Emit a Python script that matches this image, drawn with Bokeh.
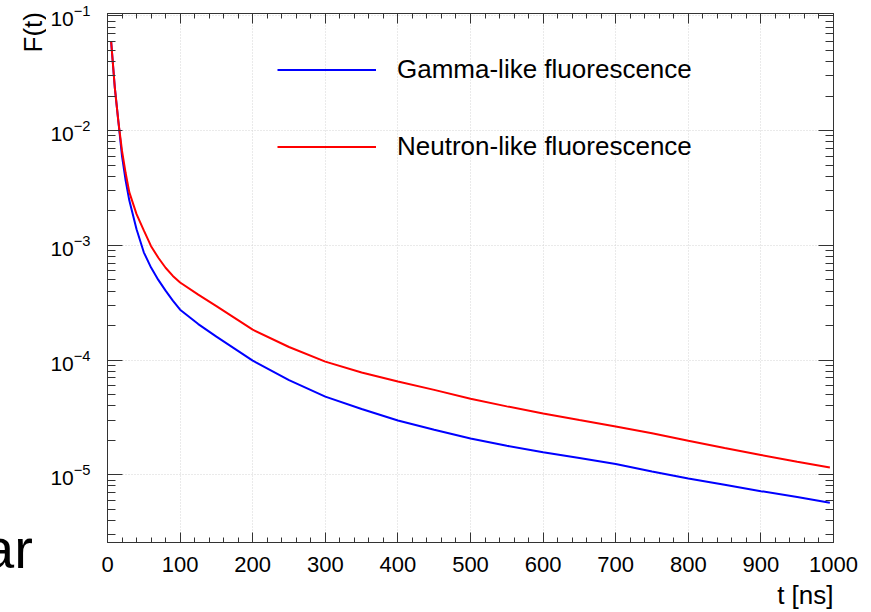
from bokeh.plotting import figure
from bokeh.layouts import row
from bokeh.models import (Range1d, LinearAxis, LogAxis, FixedTicker, Div,
                          Title, LogTickFormatter, CustomJSTickFormatter)
from bokeh.embed import file_html
from bokeh.resources import INLINE

# Scintillation decay curves: normalised fluorescence F(t) vs time
t_ns = [5, 10, 15, 20, 25, 30, 40, 50, 60, 70, 80, 90, 100, 125, 150, 175,
        200, 250, 300, 350, 400, 450, 500, 550, 600, 650, 700, 750, 800,
        850, 900, 950, 995]
gamma_f = [6.0e-2, 2.4e-2, 1.2e-2, 6.0e-3, 3.67e-3, 2.47e-3, 1.38e-3, 8.7e-4,
           6.4e-4, 5.0e-4, 4.03e-4, 3.3e-4, 2.75e-4, 2.06e-4, 1.6e-4,
           1.26e-4, 9.9e-5, 6.7e-5, 4.8e-5, 3.75e-5, 2.97e-5, 2.47e-5,
           2.07e-5, 1.79e-5, 1.57e-5, 1.40e-5, 1.24e-5, 1.07e-5, 9.3e-6,
           8.2e-6, 7.2e-6, 6.4e-6, 5.7e-6]
neutron_f = [6.0e-2, 2.4e-2, 1.2e-2, 6.65e-3, 4.27e-3, 2.91e-3, 1.87e-3,
             1.35e-3, 9.84e-4, 7.8e-4, 6.38e-4, 5.42e-4, 4.75e-4, 3.72e-4,
             2.95e-4, 2.33e-4, 1.84e-4, 1.30e-4, 9.7e-5, 7.8e-5, 6.5e-5,
             5.5e-5, 4.6e-5, 3.95e-5, 3.42e-5, 3.0e-5, 2.64e-5, 2.30e-5,
             1.98e-5, 1.71e-5, 1.49e-5, 1.30e-5, 1.16e-5]
series_names = ["Gamma-like fluorescence", "Neutron-like fluorescence"]
series_colors = ["#0000ff", "#ff0000"]
x_ticks = list(range(0, 1001, 100))
y_exponents = [-1, -2, -3, -4, -5]
x_title = "t [ns]"
y_title = "F(t)"
side_text = "ar"

X_LO, X_HI = 0, 1000
Y_LO, Y_HI = 2.57e-6, 1.05e-1
FONT = "Liberation Sans"
STRIP_W = 46          # narrow strip left of the plot for the vertical title
H = 612

# ---- main plot -------------------------------------------------------------
p = figure(width=871 - STRIP_W, height=H, output_backend="svg",
           toolbar_location=None,
           x_range=Range1d(X_LO, X_HI), y_range=Range1d(Y_LO, Y_HI),
           y_axis_type="log",
           min_border_left=107 - STRIP_W, min_border_right=38,
           min_border_top=13, min_border_bottom=70)
p.background_fill_color = "white"
p.border_fill_color = "white"
p.outline_line_color = "#333333"

x_minor = [v for v in range(0, 1001, 20) if v % 100 != 0]
y_major = [10.0 ** e for e in y_exponents]
y_minor = [k * 10.0 ** e for e in range(-6, 0) for k in range(2, 10)
           if Y_LO <= k * 10.0 ** e <= Y_HI]
x_ticker = FixedTicker(ticks=x_ticks, minor_ticks=x_minor)
y_ticker = FixedTicker(ticks=y_major, minor_ticks=y_minor)

def blank():
    return CustomJSTickFormatter(code="return ''")

def style_ticks(ax, major, minor):
    ax.major_tick_in = major
    ax.major_tick_out = 0
    ax.minor_tick_in = minor
    ax.minor_tick_out = 0
    ax.axis_line_color = "#333333"
    ax.major_tick_line_color = "#333333"
    ax.minor_tick_line_color = "#333333"
    ax.major_label_text_font = FONT
    ax.major_label_text_color = "black"

xb = p.xaxis[0]
xb.ticker = x_ticker
style_ticks(xb, 10, 5)
xb.major_label_text_font_size = "22px"
xb.major_label_standoff = 14

yl = p.yaxis[0]
yl.ticker = y_ticker
yl.formatter = LogTickFormatter()
style_ticks(yl, 15, 8)
yl.major_label_text_font_size = "21px"
yl.major_label_standoff = 17

top_axis = LinearAxis(ticker=x_ticker, formatter=blank())
style_ticks(top_axis, 10, 5)
top_axis.major_label_standoff = 0
top_axis.major_label_text_font_size = "1px"
p.add_layout(top_axis, "above")

right_axis = LogAxis(ticker=y_ticker, formatter=blank())
style_ticks(right_axis, 15, 8)
right_axis.major_label_standoff = 0
right_axis.major_label_text_font_size = "1px"
p.add_layout(right_axis, "right")

p.xgrid.ticker = x_ticker
p.ygrid.ticker = y_ticker
for g in (p.xgrid[0], p.ygrid[0]):
    g.grid_line_color = "#d4d4d4"
    g.grid_line_dash = "1 2"
    g.grid_line_width = 1

for name, color, ys in zip(series_names, series_colors, [gamma_f, neutron_f]):
    p.line(t_ns, ys, line_color=color, line_width=2, legend_label=name)

leg = p.legend[0]
leg.location = (170, 368)
leg.padding = 0
leg.margin = 0
leg.spacing = 22
leg.glyph_width = 99
leg.glyph_height = 55
leg.label_standoff = 21
leg.label_text_font = FONT
leg.label_text_font_size = "26px"
leg.label_text_color = "black"
leg.border_line_alpha = 0
leg.background_fill_alpha = 0

# x title at the right end of the axis
p.add_layout(Title(text=x_title, align="right", text_font=FONT,
                   text_font_size="26px", text_font_style="normal",
                   text_color="black", standoff=6, offset=0), "below")

# ---- left strip: vertical y title (top end at the frame top) and margin text
strip_html = (
    f'<div style="position:relative;width:{STRIP_W}px;height:{H}px;'
    f'overflow:hidden;background:white;color:black;'
    f"font-family:'{FONT}',sans-serif;\">"
    '<span style="position:absolute;left:33px;top:12px;font-size:26px;'
    'line-height:26px;white-space:nowrap;transform-origin:0 0;'
    f'transform:rotate(-90deg) translate(-100%,-50%);">{y_title}</span>'
    '<span style="position:absolute;left:-17px;top:521px;font-size:56px;'
    f'line-height:56px;white-space:nowrap;">{side_text}</span>'
    '</div>'
)
strip = Div(text=strip_html, width=STRIP_W, height=H, margin=0)

layout = row(strip, p, spacing=0)
open("out.html", "w").write(file_html(layout, INLINE))
